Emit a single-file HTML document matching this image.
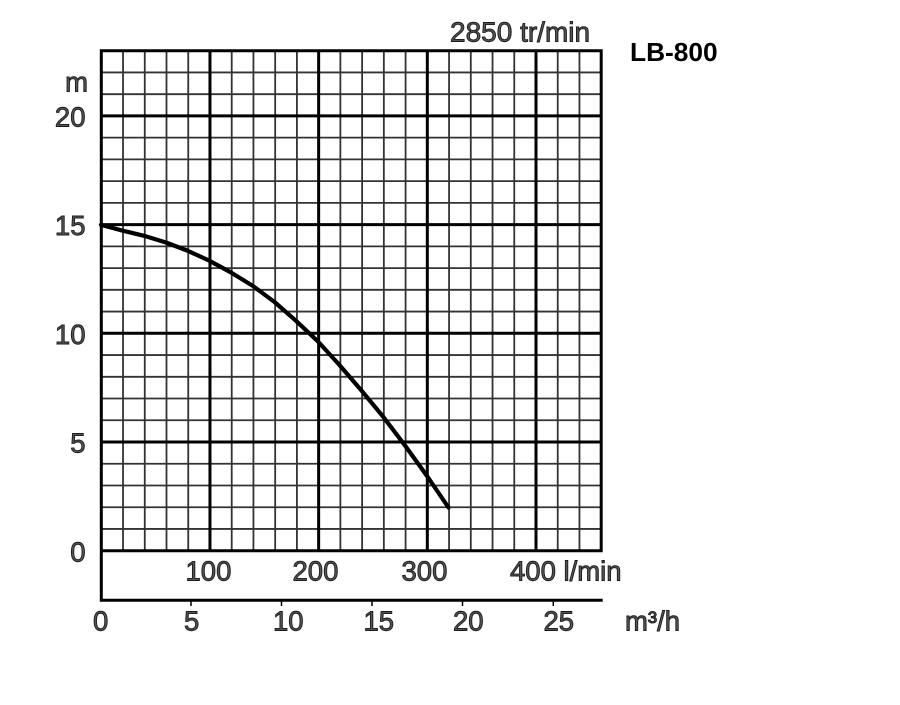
<!DOCTYPE html>
<html>
<head>
<meta charset="utf-8">
<title>LB-800</title>
<style>
html,body{margin:0;padding:0;background:#ffffff;}
</style>
</head>
<body>
<svg width="900" height="700" viewBox="0 0 900 700" xmlns="http://www.w3.org/2000/svg">
<rect x="0" y="0" width="900" height="700" fill="#ffffff"/>
<!-- thin vertical grid lines -->
<path fill="none" stroke="#333333" stroke-width="1.8" d="M123.03 50.7V550.7 M144.77 50.7V550.7 M166.5 50.7V550.7 M188.24 50.7V550.7 M231.71 50.7V550.7 M253.44 50.7V550.7 M275.18 50.7V550.7 M296.91 50.7V550.7 M340.38 50.7V550.7 M362.12 50.7V550.7 M383.85 50.7V550.7 M405.59 50.7V550.7 M449.06 50.7V550.7 M470.79 50.7V550.7 M492.53 50.7V550.7 M514.26 50.7V550.7 M557.73 50.7V550.7 M579.47 50.7V550.7"/>
<!-- thin horizontal grid lines -->
<path fill="none" stroke="#333333" stroke-width="1.8" d="M101.3 528.96H601.2 M101.3 507.22H601.2 M101.3 485.48H601.2 M101.3 463.74H601.2 M101.3 420.27H601.2 M101.3 398.53H601.2 M101.3 376.79H601.2 M101.3 355.05H601.2 M101.3 311.57H601.2 M101.3 289.83H601.2 M101.3 268.09H601.2 M101.3 246.35H601.2 M101.3 202.87H601.2 M101.3 181.13H601.2 M101.3 159.4H601.2 M101.3 137.66H601.2 M101.3 94.18H601.2 M101.3 72.44H601.2"/>
<!-- thick grid lines -->
<path fill="none" stroke="#000000" stroke-width="3" d="M209.97 50.7V550.7 M318.65 50.7V550.7 M427.32 50.7V550.7 M536 50.7V550.7 M101.3 442H601.2 M101.3 333.31H601.2 M101.3 224.61H601.2 M101.3 115.92H601.2"/>
<!-- borders -->
<path fill="none" stroke="#000000" stroke-width="3" d="M101.3 49.2V601.8 M99.8 50.7H602.7 M601.2 49.2V552.2 M99.8 550.7H602.7 M99.8 600.3H602.7"/>
<!-- ticks -->
<path fill="none" stroke="#000000" stroke-width="1.5" d="M191 600V606 M281.5 600V606 M372 600V606 M462.5 600V606 M553.3 600V606"/>
<!-- curve -->
<polyline fill="none" stroke="#000000" stroke-width="4.2" stroke-linejoin="round" stroke-linecap="round" points="101,224.8 122,230.5 144,235.8 166,242.5 187,250.5 209,260.5 231,272.5 253,286 274.5,302 296,320.8 318,341.5 339,364.5 361,390 383,416.5 405,445.5 427,476 448.5,507.5"/>
<!-- y labels -->
<g font-family="Liberation Sans, Arial, sans-serif" font-size="27.5" fill="#555555" stroke="#1a1a1a" stroke-width="0.9" text-anchor="end">
<text x="88" y="91.5">m</text>
<text x="85.5" y="126.5">20</text>
<text x="85.5" y="235">15</text>
<text x="85.5" y="344">10</text>
<text x="85.5" y="452.5">5</text>
<text x="85.5" y="561.5">0</text>
</g>
<!-- l/min and m3/h labels -->
<g font-family="Liberation Sans, Arial, sans-serif" font-size="27.5" fill="#555555" stroke="#1a1a1a" stroke-width="0.9">
<text x="185.5" y="580.7">100</text>
<text x="292.5" y="580.7">200</text>
<text x="401.5" y="580.7">300</text>
<text x="510" y="580.7">400 l/min</text>
<text x="93" y="630.5">0</text>
<text x="184" y="630.5">5</text>
<text x="273" y="630.5">10</text>
<text x="363.5" y="630.5">15</text>
<text x="453" y="630.5">20</text>
<text x="543.5" y="630.5">25</text>
<text x="625" y="630.5">m³/h</text>
<text x="450" y="41.5" font-size="28">2850 tr/min</text>
</g>
<text x="630" y="61" font-family="Liberation Sans, Arial, sans-serif" font-size="26.3" font-weight="bold" fill="#000000">LB-800</text>
</svg>
</body>
</html>
